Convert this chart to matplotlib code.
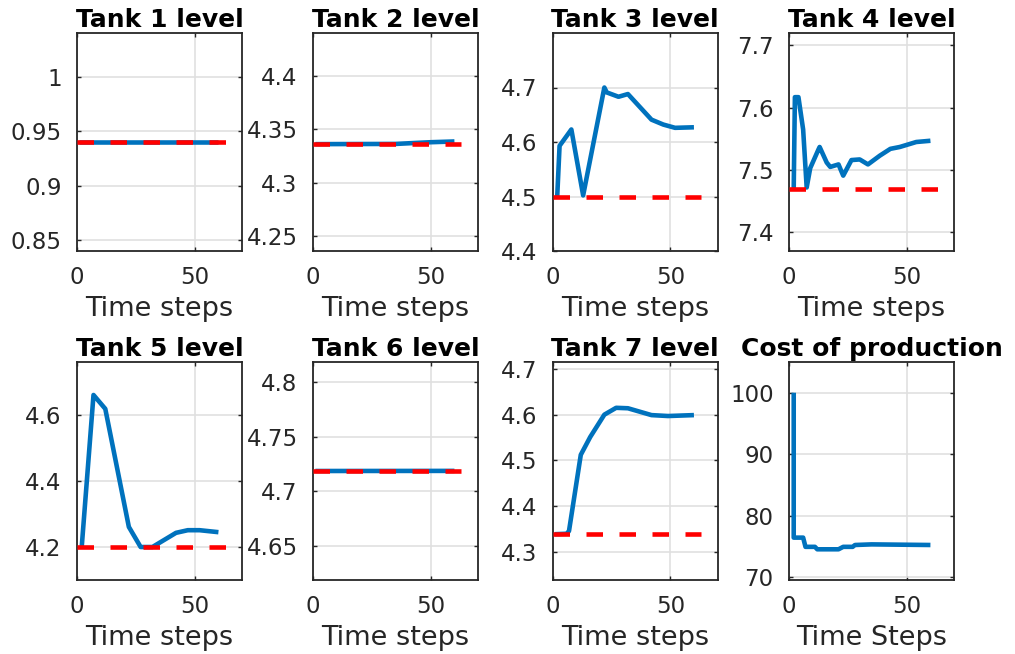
import numpy as np
from matplotlib import pyplot as plt

# Tank levels (blue) and their setpoints (red dashed)
t1 = [1, 60]
lvl1 = [0.94, 0.94]
sp1 = 0.94

t2 = [1, 35, 50, 60]
lvl2 = [4.336, 4.3362, 4.3378, 4.3385]
sp2 = 4.336

t3 = [2, 3, 8, 13, 22, 23, 28, 32, 42, 47, 52, 60]
lvl3 = [4.50, 4.593, 4.623, 4.502, 4.700, 4.691, 4.683, 4.688, 4.641, 4.632, 4.626, 4.627]
sp3 = 4.5

t4 = [2, 2.5, 4, 6, 7.5, 9, 12.5, 13, 16, 17.5, 21, 23, 26.5, 30, 33.5, 38.5, 43, 47, 54, 60]
lvl4 = [7.47, 7.617, 7.617, 7.565, 7.472, 7.503, 7.533, 7.537, 7.512, 7.505, 7.509, 7.491,
        7.516, 7.517, 7.509, 7.523, 7.534, 7.537, 7.545, 7.547]
sp4 = 7.47

t5 = [2, 7, 12, 22, 27, 32, 42, 47, 52, 60]
lvl5 = [4.20, 4.661, 4.619, 4.261, 4.20, 4.20, 4.243, 4.251, 4.251, 4.245]
sp5 = 4.2

t6 = [1, 60]
lvl6 = [4.7187, 4.7188]
sp6 = 4.7187

t7 = [1, 6, 7, 12, 16, 22, 27, 32, 42, 49, 60]
lvl7 = [4.338, 4.339, 4.345, 4.512, 4.551, 4.600, 4.615, 4.614, 4.599, 4.597, 4.599]
sp7 = 4.3376

# Cost of production
t8 = [2, 2, 6, 7, 11, 12, 21, 23, 27, 28, 35, 60]
cost = [100, 76.4, 76.4, 74.9, 74.9, 74.5, 74.5, 74.9, 74.9, 75.2, 75.3, 75.2]

sp_t = [0, 63]

titles = ['Tank 1 level', 'Tank 2 level', 'Tank 3 level', 'Tank 4 level',
          'Tank 5 level', 'Tank 6 level', 'Tank 7 level', 'Cost of production']
times = [t1, t2, t3, t4, t5, t6, t7, t8]
levels = [lvl1, lvl2, lvl3, lvl4, lvl5, lvl6, lvl7, cost]
setpoints = [sp1, sp2, sp3, sp4, sp5, sp6, sp7, None]
ylims = [(0.84, 1.04), (4.236, 4.44), (4.4, 4.8), (7.37, 7.72),
         (4.1, 4.761), (4.6187, 4.8187), (4.2376, 4.7154), (69.5, 105)]
yticks = [[0.85, 0.9, 0.95, 1], [4.25, 4.3, 4.35, 4.4], [4.4, 4.5, 4.6, 4.7],
          [7.4, 7.5, 7.6, 7.7], [4.2, 4.4, 4.6], [4.65, 4.7, 4.75, 4.8],
          [4.3, 4.4, 4.5, 4.6, 4.7], [70, 80, 90, 100]]

W, H = 1015, 654
lefts = [77, 313, 552.5, 789]
width = 165
tops = [33, 362]
height = 218

plt.rcParams['font.family'] = 'DejaVu Sans'

fig = plt.figure(figsize=(W / 100, H / 100), dpi=100)

for i in range(8):
    r, c = divmod(i, 4)
    ax = fig.add_axes([lefts[c] / W, (H - tops[r] - height) / H, width / W, height / H])
    ax.plot(times[i], levels[i], color='#0072BD', lw=3.3, solid_capstyle='butt', zorder=3)
    if setpoints[i] is not None:
        ax.plot(sp_t, [setpoints[i]] * 2, color='red', lw=3.3, dashes=(3.6, 3.6),
                dash_capstyle='butt', zorder=4)
    ax.set_xlim(0, 70)
    ax.set_ylim(*ylims[i])
    ax.set_xticks([0, 50])
    ax.set_yticks(yticks[i])
    ax.set_yticklabels(['%g' % v for v in yticks[i]])
    ax.grid(True, color='#E0E0E0', lw=1.2)
    ax.set_axisbelow(True)
    for s in ax.spines.values():
        s.set_color('#262626')
        s.set_linewidth(1.3)
    ax.tick_params(direction='in', top=True, right=True, length=3, width=1,
                   color='#262626', labelcolor='#262626', labelsize=16.5, pad=11)
    ax.set_title(titles[i], fontsize=18, fontweight='bold', pad=4)
    ax.set_xlabel('Time Steps' if i == 7 else 'Time steps', fontsize=19.5,
                  color='#262626', labelpad=5)

plt.savefig('out.png', dpi=100)
